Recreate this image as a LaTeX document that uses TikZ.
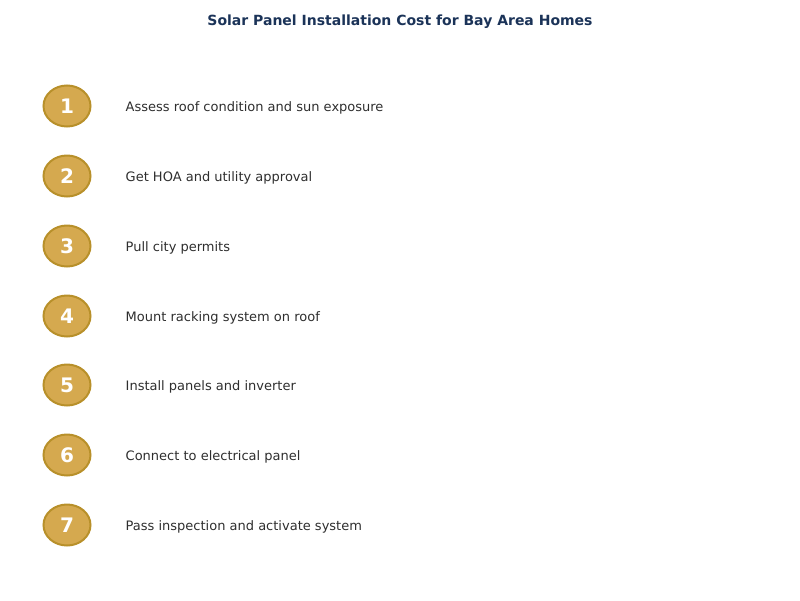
\documentclass[tikz,border=0pt]{standalone}
\usepackage{fontspec}
\setmainfont{DejaVu Sans}
\usepackage{tikz}
\usetikzlibrary{positioning,shapes.geometric}
\definecolor{w_gold}{HTML}{D5A94F}
\definecolor{w_goldedge}{HTML}{B8902A}
\definecolor{w_navy}{HTML}{1B3358}
\definecolor{w_text}{HTML}{2E2E2E}
\tikzstyle{stepnum} = [ellipse, draw=w_goldedge, line width=2pt, fill=w_gold,
	minimum width=47pt, minimum height=41pt, inner sep=0pt, text=white,
	font=\fontsize{20}{22}\selectfont\bfseries]
\tikzstyle{steptext} = [anchor=west, inner sep=0pt, yshift=-1.5pt, text=w_text,
	font=\fontsize{13}{16}\selectfont]

\begin{document}
\begin{tikzpicture}[x=1pt, y=-1pt, node distance=34pt]
	\useasboundingbox (0,0) rectangle (800,600);
	\node[font=\fontsize{14}{17}\selectfont\bfseries, text=w_navy] (title) at (400,21.5) {Solar Panel Installation Cost for Bay Area Homes};

	\node[stepnum] (s1) at (67,106) {1};
	\node[steptext, right=of s1] (t1) {Assess roof condition and sun exposure};

	\node[stepnum] (s2) at (67,176) {2};
	\node[steptext, right=of s2] (t2) {Get HOA and utility approval};

	\node[stepnum] (s3) at (67,246) {3};
	\node[steptext, right=of s3] (t3) {Pull city permits};

	\node[stepnum] (s4) at (67,316) {4};
	\node[steptext, right=of s4] (t4) {Mount racking system on roof};

	\node[stepnum] (s5) at (67,385) {5};
	\node[steptext, right=of s5] (t5) {Install panels and inverter};

	\node[stepnum] (s6) at (67,455) {6};
	\node[steptext, right=of s6] (t6) {Connect to electrical panel};

	\node[stepnum] (s7) at (67,525) {7};
	\node[steptext, right=of s7] (t7) {Pass inspection and activate system};
\end{tikzpicture}
\end{document}
